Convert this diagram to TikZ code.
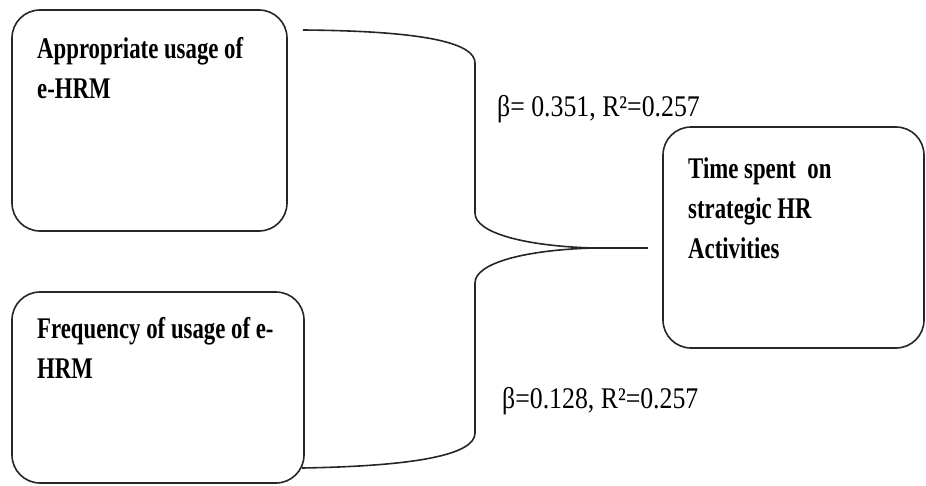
\documentclass[tikz,border=0pt]{standalone}
\usepackage{fontspec}
\setmainfont{Liberation Serif}
\usepackage{graphicx}
\begin{document}
\begin{tikzpicture}[x=1pt,y=-1pt,
  varbox/.style={draw=black!85, line width=1.6pt, rounded corners=28pt, fill=white},
  boxtext/.style={anchor=base west, inner sep=0pt, font=\bfseries\fontsize{30}{40}\selectfont},
  coeftext/.style={anchor=base west, inner sep=0pt, font=\fontsize{30}{34}\selectfont},
  brace/.style={draw=black!85, line width=1.6pt, line join=round}]
  \useasboundingbox (0,0) rectangle (926,485);

  % variable boxes
  \draw[varbox] (12,10) rectangle (287,231);
  \draw[varbox] (12,292) rectangle (304,483);
  \draw[varbox] (663,127) rectangle (924,348);

  % box texts
  \node[boxtext] (apprtxt) at (37,58) {\scalebox{0.76}[1]{\begin{tabular}[t]{@{}l@{}}Appropriate usage of\\e-HRM\end{tabular}}};
  \node[boxtext] (freqtxt) at (37,338) {\scalebox{0.76}[1]{\begin{tabular}[t]{@{}l@{}}Frequency of usage of e-\\HRM\end{tabular}}};
  \node[boxtext] (timetxt) at (688,178) {\scalebox{0.76}[1]{\begin{tabular}[t]{@{}l@{}}Time spent\ \ on\\strategic HR\\Activities\end{tabular}}};

  % brace joining both predictors to the outcome
  \coordinate (bstart) at (303,30);
  \coordinate (bend) at (302,468);
  \coordinate (tip) at (593,248);
  \coordinate (tipend) at (648,248);
  \draw[brace] (bstart) .. controls (430,31) and (475,44) .. (475,63)
    -- (475,213) .. controls (475,233) and (525,246) .. (tip)
    .. controls (525,250) and (475,263) .. (475,283)
    -- (475,433) .. controls (475,454) and (420,466) .. (bend);
  \draw[brace, line width=2.2pt] (tip) -- (tipend);

  % coefficients
  \node[coeftext] (coef1) at (497,116) {\scalebox{0.86}[1]{β= 0.351, R²=0.257}};
  \node[coeftext] (coef2) at (502,408) {\scalebox{0.86}[1]{β=0.128, R²=0.257}};
\end{tikzpicture}
\end{document}
